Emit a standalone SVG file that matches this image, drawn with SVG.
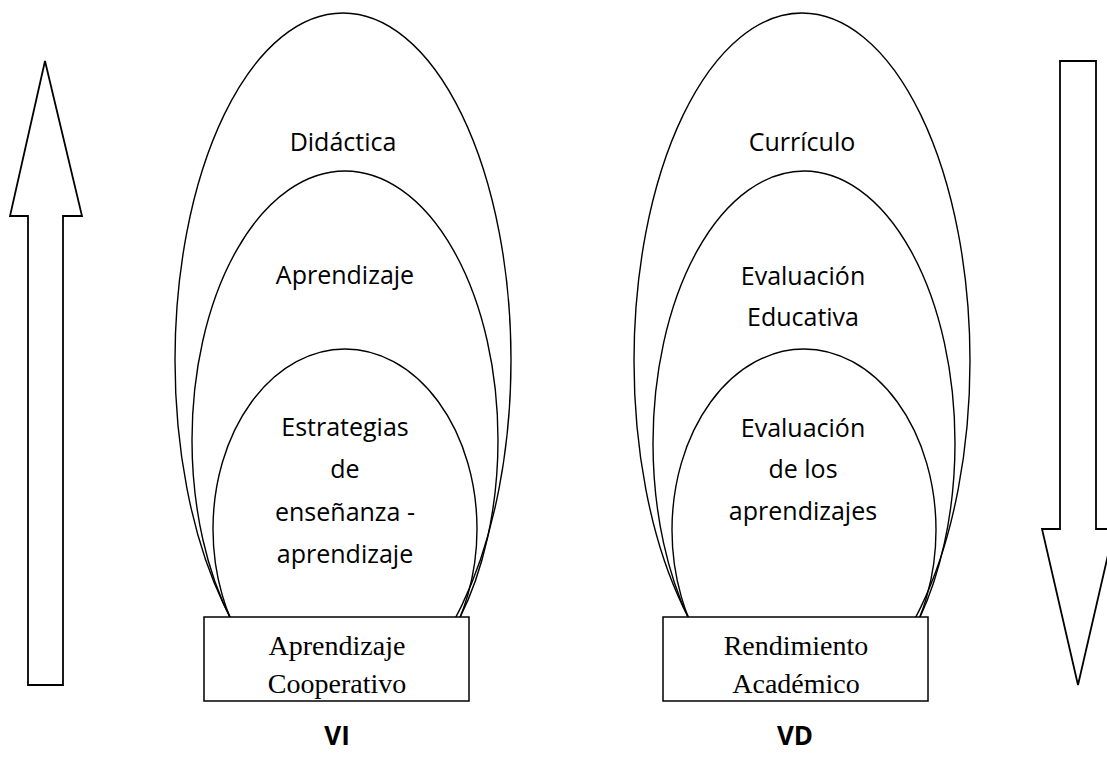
<svg xmlns="http://www.w3.org/2000/svg" width="1107" height="760" viewBox="0 0 1107 760">
<style>
.ell{fill:none;stroke:#000;stroke-width:1.4}
.arrow{fill:#fff;stroke:#000;stroke-width:1.8}
.box{fill:#fff;stroke:#000;stroke-width:1.5}
.lbl{font-family:"Open Sans","Liberation Sans",sans-serif;font-size:25px;fill:#000;text-anchor:middle}
.btxt{font-family:"Liberation Serif","Times New Roman",serif;font-size:28px;fill:#000;text-anchor:middle}
.var{font-family:"Open Sans","Liberation Sans",sans-serif;font-size:26px;font-weight:bold;fill:#000;text-anchor:middle}
</style>
<defs>
<clipPath id="top"><rect x="0" y="0" width="1107" height="618"/></clipPath>
</defs>
<rect width="1107" height="760" fill="#fff"/>
<g id="arrow-up"><polygon class="arrow" points="45,61 82,216 63,216 63,685 28,685 28,216 10,216"/></g>
<g id="arrow-down"><polygon class="arrow" points="1060,61 1096,61 1096,529 1114,529 1078,685 1042,529 1060,529"/></g>
<g id="didactica" clip-path="url(#top)"><ellipse class="ell" cx="343" cy="360" rx="168" ry="347"/></g>
<g id="aprendizaje" clip-path="url(#top)"><ellipse class="ell" cx="345" cy="440" rx="153" ry="269"/></g>
<g id="estrategias" clip-path="url(#top)"><ellipse class="ell" cx="345" cy="529" rx="132" ry="180"/></g>
<g id="curriculo" clip-path="url(#top)"><ellipse class="ell" cx="802" cy="361" rx="168" ry="348"/></g>
<g id="eval-educativa" clip-path="url(#top)"><ellipse class="ell" cx="804" cy="443" rx="151" ry="272"/></g>
<g id="eval-aprendizajes" clip-path="url(#top)"><ellipse class="ell" cx="804" cy="530" rx="132" ry="181"/></g>
<g id="labels">
<text class="lbl" x="343" y="151">Didáctica</text>
<text class="lbl" x="345" y="284">Aprendizaje</text>
<text class="lbl" x="345" y="436">Estrategias</text>
<text class="lbl" x="345" y="478">de</text>
<text class="lbl" x="345" y="521">enseñanza -</text>
<text class="lbl" x="345" y="563">aprendizaje</text>
<text class="lbl" x="802" y="151">Currículo</text>
<text class="lbl" x="803" y="285">Evaluación</text>
<text class="lbl" x="803" y="326">Educativa</text>
<text class="lbl" x="803" y="437">Evaluación</text>
<text class="lbl" x="803" y="478">de los</text>
<text class="lbl" x="803" y="520">aprendizajes</text>
</g>
<g id="box-vi"><rect class="box" x="204" y="617" width="265" height="84"/>
<text class="btxt" x="337" y="655">Aprendizaje</text>
<text class="btxt" x="337" y="693">Cooperativo</text></g>
<g id="box-vd"><rect class="box" x="663" y="617" width="265" height="84"/>
<text class="btxt" x="796" y="655">Rendimiento</text>
<text class="btxt" x="796" y="693">Académico</text></g>
<g id="vi"><text class="var" x="337" y="745">VI</text></g>
<g id="vd"><text class="var" x="795" y="745">VD</text></g>
<g id="connectors"></g>
</svg>
